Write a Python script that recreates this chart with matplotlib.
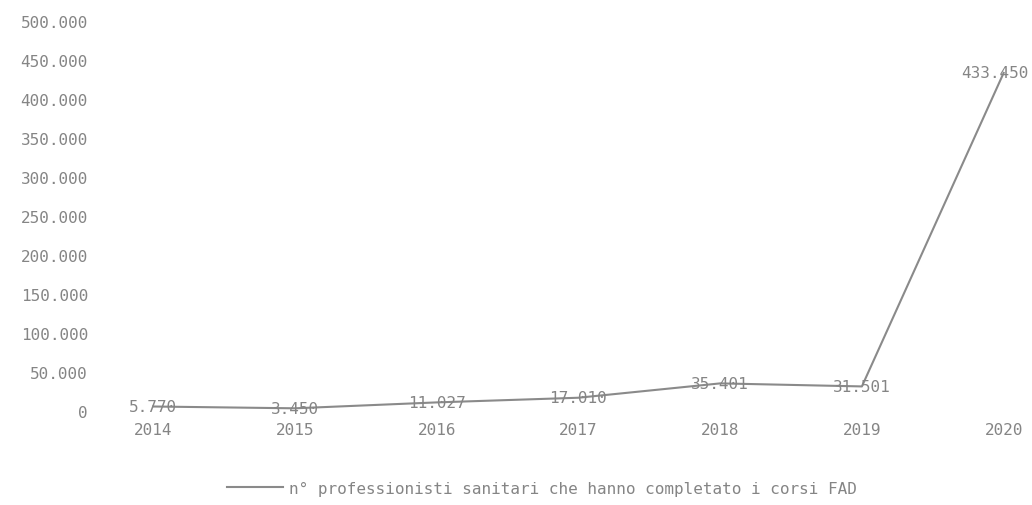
import matplotlib.pyplot as plt

anni = ["2014", "2015", "2016", "2017", "2018", "2019", "2020"]
professionisti = [5770, 3450, 11027, 17010, 35401, 31501, 433450]
etichette = ["5.770", "3.450", "11.027", "17.010", "35.401", "31.501", "433.450"]
y_ticks = list(range(0, 500001, 50000))
serie = "n° professionisti sanitari che hanno completato i corsi FAD"

grigio = "#8a8a8a"
testo = "#858585"

plt.rcParams['font.family'] = ['DejaVu Sans Mono', 'DejaVu Sans']

fig = plt.figure(figsize=(10.32, 5.06), dpi=100)
ax = fig.add_axes([95 / 1032, 94 / 506, 1 - 95 / 1032, 390 / 506])

x = list(range(len(anni)))
ax.plot(x, professionisti, color=grigio, linewidth=1.5, label=serie)

# ultima etichetta spostata un po' a sinistra per non uscire dal bordo
for i, (xi, yi, lab) in enumerate(zip(x, professionisti, etichette)):
    dx = -6 if i == len(x) - 1 else 0
    ax.annotate(lab, (xi, yi), xytext=(dx, 0), textcoords="offset points",
                ha="center", va="center", fontsize=11.5, color=testo)

ax.set_xlim(-0.41, 6.2)
ax.set_ylim(0, 500000)
ax.set_xticks(x)
ax.set_xticklabels(anni)
ax.set_yticks(y_ticks)
ax.set_yticklabels(["0" if v == 0 else f"{v:,}".replace(",", ".") for v in y_ticks])
ax.tick_params(axis="both", length=0, labelsize=11.5, labelcolor=testo)
ax.tick_params(axis="y", pad=5)
ax.tick_params(axis="x", pad=8)
for s in ax.spines.values():
    s.set_visible(False)

fig.legend(loc="center", bbox_to_anchor=(542 / 1032, 1 - 489 / 506), frameon=False,
           fontsize=11.5, labelcolor=testo, handlelength=3.5, handletextpad=0.4)

fig.savefig("out.png", dpi=100)
